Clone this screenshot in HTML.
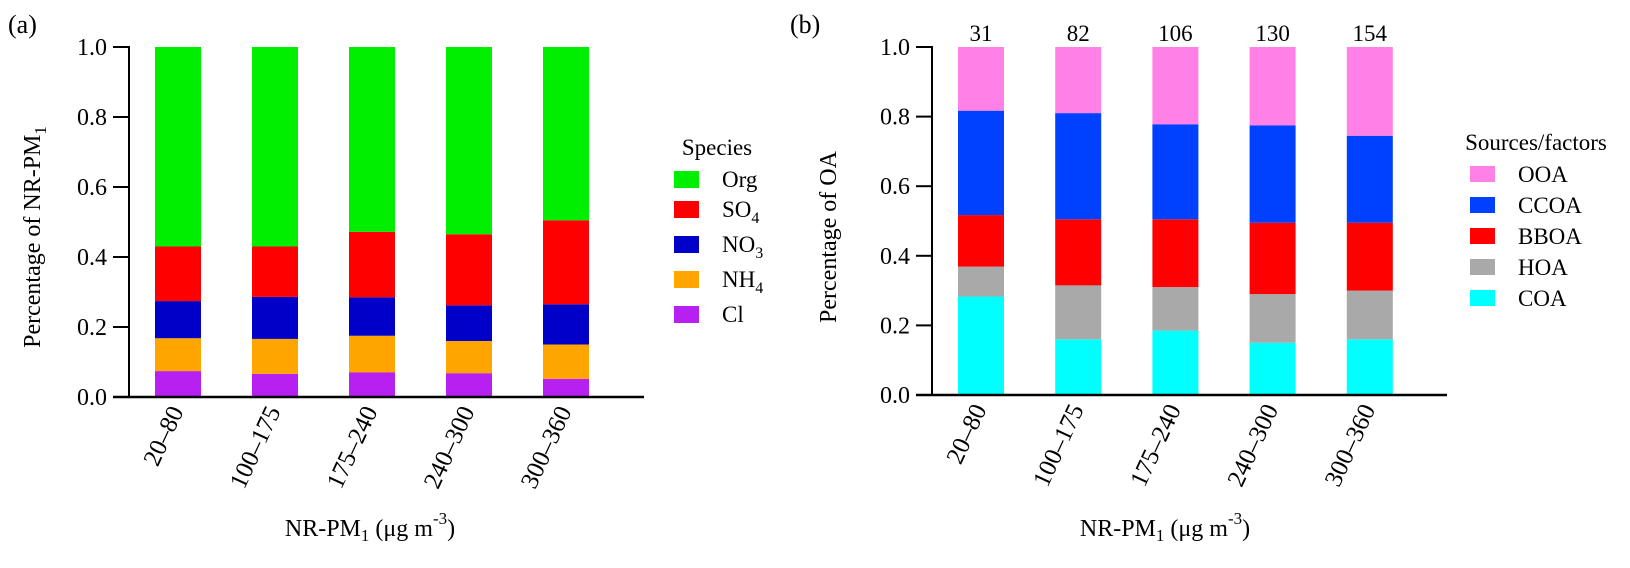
<!DOCTYPE html>
<html><head><meta charset="utf-8">
<style>
html,body{margin:0;padding:0;background:#fff;}
svg, svg text{font-family:"Liberation Serif","DejaVu Serif",serif;}
</style></head>
<body>
<svg id="chart" width="1630" height="563" viewBox="0 0 1630 563" font-family="Liberation Serif, serif">
</svg>
<script>
const categories = ["20–80","100–175","175–240","240–300","300–360"];
// Panel (a) fractions of NR-PM1 (per segment)
const speciesNames = ["Cl","NH4","NO3","SO4","Org"];
const clVals  = [0.074,0.066,0.070,0.068,0.052];
const nh4Vals = [0.094,0.100,0.105,0.092,0.098];
const no3Vals = [0.106,0.120,0.110,0.102,0.115];
const so4Vals = [0.156,0.144,0.187,0.203,0.240];
const orgVals = [0.570,0.570,0.528,0.535,0.495];
// Panel (b) fractions of OA (per segment)
const sourceNames = ["COA","HOA","BBOA","CCOA","OOA"];
const coaVals  = [0.283,0.160,0.185,0.150,0.160];
const hoaVals  = [0.086,0.155,0.125,0.140,0.140];
const bboaVals = [0.148,0.190,0.195,0.205,0.195];
const ccoaVals = [0.300,0.305,0.273,0.280,0.250];
const ooaVals  = [0.183,0.190,0.222,0.225,0.255];
const topLabels = ["31","82","106","130","154"];
const yTicks = [0,0.2,0.4,0.6,0.8,1.0];

const NS="http://www.w3.org/2000/svg";
const svg=document.getElementById('chart');
function mk(tag,attrs,parent){const e=document.createElementNS(NS,tag);for(const k in attrs)e.setAttribute(k,attrs[k]);(parent||svg).appendChild(e);return e;}

function drawPanel(p){
  const g=mk('g',{});
  
  
  const y=v=>p.y0-v*(p.y0-p.y1);
  const x=i=>p.bx0+i*p.pitch;
  categories.forEach((c,i)=>{
    let acc=0;
    p.series.forEach((s,k)=>{
      const v=s[i];
      const r=mk('rect',{x:x(i),y:y(acc+v),width:p.bw,height:y(acc)-y(acc+v),fill:p.colors[k]},g);
      
      
      acc+=v;
    });
    const t=mk('text',{x:x(i)+p.bw/2+6,y:p.y0+14,'font-size':25,'text-anchor':'end',transform:`rotate(-65 ${x(i)+p.bw/2+6} ${p.y0+14})`},g);
    t.textContent=c;
    
    
  });
  const ax=mk('line',{x1:p.ax,y1:p.y1-1,x2:p.ax,y2:p.y0,stroke:'#000','stroke-width':2},g);
  
  
  const xa=mk('line',{x1:p.ax-16,y1:p.y0,x2:p.xend,y2:p.y0,stroke:'#000','stroke-width':2.5},g);
  
  
  yTicks.forEach(v=>{
    const tl=mk('line',{x1:p.ax-16,y1:y(v),x2:p.ax,y2:y(v),stroke:'#000','stroke-width':2},g);
    
    
    const tt=mk('text',{x:p.ax-22,y:y(v)+8,'font-size':24,'text-anchor':'end'},g);
    tt.textContent=v.toFixed(1);
    
    
  });
  return {g,x,y};
}

const pa=drawPanel({id:'a',ax:129,y0:397,y1:47,bx0:155,pitch:97,bw:46,xend:644,
  series:[clVals,nh4Vals,no3Vals,so4Vals,orgVals],names:speciesNames,
  colors:['#b620f0','#ffa500','#0000c8','#ff0000','#00ee00']});
const pb=drawPanel({id:'b',ax:932,y0:395,y1:47,bx0:958,pitch:97.2,bw:46,xend:1447,
  series:[coaVals,hoaVals,bboaVals,ccoaVals,ooaVals],names:sourceNames,
  colors:['#00ffff','#a9a9a9','#ff0000','#0040ff','#ff80e6']});
topLabels.forEach((l,i)=>{
  const t=mk('text',{x:pb.x(i)+23,y:41,'font-size':23,'text-anchor':'middle'},pb.g);
  t.textContent=l;
  
  
});
</script>
<script>
const s2=document.getElementById('chart');
s2.insertAdjacentHTML('beforeend',`
<text x="8" y="33" font-size="26">(a)</text>
<text x="790" y="33" font-size="26">(b)</text>
<text transform="translate(40 237) rotate(-90)" font-size="24" text-anchor="middle">Percentage of NR-PM<tspan font-size="17" dy="6">1</tspan></text>
<text transform="translate(836 237) rotate(-90)" font-size="24" text-anchor="middle">Percentage of OA</text>
<text x="370" y="536" font-size="24" text-anchor="middle">NR-PM<tspan font-size="17" dy="5">1</tspan><tspan dy="-5"> (μg m</tspan><tspan font-size="17" dy="-12">-3</tspan><tspan dy="12">)</tspan></text>
<text x="1165" y="536" font-size="24" text-anchor="middle">NR-PM<tspan font-size="17" dy="5">1</tspan><tspan dy="-5"> (μg m</tspan><tspan font-size="17" dy="-12">-3</tspan><tspan dy="12">)</tspan></text>
<g font-size="23">
<text x="717" y="155" text-anchor="middle">Species</text>
<rect x="674" y="171" width="25" height="17" fill="#00ee00"/>
<text x="722" y="187">Org</text>
<rect x="674" y="201" width="25" height="17" fill="#ff0000"/>
<text x="722" y="217">SO<tspan font-size="16" dy="6">4</tspan></text>
<rect x="674" y="236" width="25" height="17" fill="#0000c8"/>
<text x="722" y="252">NO<tspan font-size="16" dy="6">3</tspan></text>
<rect x="674" y="271" width="25" height="17" fill="#ffa500"/>
<text x="722" y="287">NH<tspan font-size="16" dy="6">4</tspan></text>
<rect x="674" y="306" width="25" height="17" fill="#b620f0"/>
<text x="722" y="322">Cl</text>
</g>
<g font-size="23">
<text x="1536" y="150" text-anchor="middle">Sources/factors</text>
<rect x="1470" y="166" width="25" height="16" fill="#ff80e6"/>
<text x="1518" y="182">OOA</text>
<rect x="1470" y="197" width="25" height="16" fill="#0040ff"/>
<text x="1518" y="213">CCOA</text>
<rect x="1470" y="228" width="25" height="16" fill="#ff0000"/>
<text x="1518" y="244">BBOA</text>
<rect x="1470" y="259" width="25" height="16" fill="#a9a9a9"/>
<text x="1518" y="275">HOA</text>
<rect x="1470" y="290" width="25" height="16" fill="#00ffff"/>
<text x="1518" y="306">COA</text>
</g>`);
</script>
</body></html>
